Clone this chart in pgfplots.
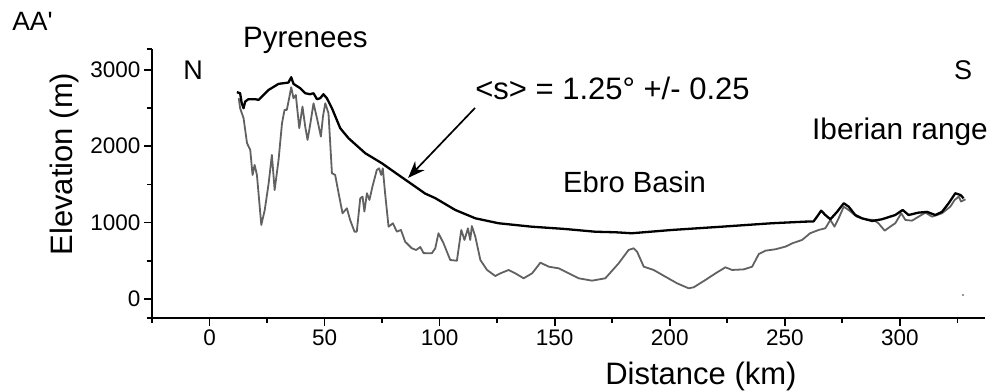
\documentclass[border=0pt]{standalone}
\usepackage{fontspec}
\setmainfont{Liberation Sans}
\newfontfamily\plainfont{Liberation Sans}
\usepackage{pgfplots}
\pgfplotsset{compat=1.18}
\usetikzlibrary{arrows.meta}
\begin{document}
\begin{tikzpicture}
\begin{axis}[
  scale only axis,
  width=833pt, height=268.7pt,
  xmin=-25, xmax=337, ymin=-250, ymax=3270,
  axis lines=left,
  axis line style={-, line width=1.7pt},
  xtick={0,50,...,300},
  minor xtick={-25,25,75,125,175,225,275,325},
  ytick={0,1000,2000,3000},
  minor ytick={500,1500,2500},
  extra y ticks={-250,3270}, extra y tick labels={},
  extra y tick style={major tick length=5pt},
  tick align=outside,
  major tick length=8pt, minor tick length=5pt,
  every tick/.style={line width=1.7pt, black},
  tick label style={font=\fontsize{22.5}{26}\selectfont},
  /pgf/number format/assume math mode=true,
  /pgf/number format/1000 sep={},
  xlabel={Distance (km)}, ylabel={Elevation (m)},
  label style={font=\fontsize{31}{35}\selectfont, inner sep=0pt},
  xlabel style={at={(axis description cs:0.659,-0.2493)}, anchor=base},
  ylabel style={at={(axis description cs:-0.1056,0.573)}, anchor=center},
  clip=false,
]
\path (axis cs:-91.05,3915.6) rectangle (axis cs:339.6,-1206);
% gray detailed topography
\addplot[black!62, line width=1.8pt, line join=round] coordinates {
(12.7,2629) (13.3,2498) (14.8,2367) (16.3,2039) (17.7,1952) (18.7,1624) (19.6,1755) (20.6,1624) (22.5,969) (24.0,1165) (25.7,1515) (27.1,1886) (28.3,1427) (30.0,1820) (31.5,2301) (32.6,2476) (33.6,2476) (34.6,2629) (35.5,2773) (36.5,2629) (37.5,2672) (39.0,2236) (40.4,2519) (41.6,2255) (42.6,2083) (43.7,2275) (45.2,2563) (46.7,2367) (48.4,2126) (49.3,2389) (50.3,2563) (51.7,2432) (53.2,1646) (54.6,1624) (56.1,1384) (57.8,1122) (59.7,1187) (61.1,1034) (63.0,881) (64.0,881) (65.5,1318) (66.5,1340) (67.3,1144) (68.4,1384) (69.5,1297) (70.8,1471) (72.7,1689) (73.7,1711) (74.6,1624) (75.3,1711) (76.3,1384) (77.8,946) (79.7,990) (81.4,881) (83.2,903) (85.0,750) (87.9,663) (89.8,641) (91.6,680) (93.0,600) (96.6,597) (98.1,663) (99.5,860) (101.7,728) (104.6,510) (107.5,500) (109.4,903) (110.8,772) (112.3,925) (113.3,772) (114.0,955) (115.5,816) (117.7,510) (120.6,379) (124.2,300) (126.4,335) (130.0,379) (132.9,335) (136.5,270) (140.2,335) (143.8,475) (147.4,422) (151.8,400) (156.1,335) (160.4,270) (166.2,239) (172.0,270) (177.8,466) (182.1,641) (184.3,663) (185.8,619) (188.7,422) (193.0,379) (198.1,291) (203.2,204) (208.2,139) (210.4,152) (215.5,248) (219.9,335) (224.2,414) (227.1,379) (232.2,387) (235.8,422) (238.7,588) (241.6,632) (245.9,650) (250.3,685) (253.2,728) (257.5,772) (261.0,860) (264.7,903) (267.6,925) (269.8,1034) (271.6,946) (273.4,1056) (275.6,1208) (277.7,1165) (281.3,1077) (284.9,1043) (288.6,1034) (290.7,991) (293.4,894) (295.8,946) (298.0,991) (300.6,1122) (302.4,1034) (305.3,1025) (308.1,1077) (311.1,1130) (314.0,1077) (318.3,1122) (321.9,1208) (323.8,1296) (325.6,1340) (326.6,1275) (328.5,1305)
};
% black envelope
\addplot[black, line width=2.3pt, line join=round] coordinates {
(11.9,2708) (13.3,2694) (14.0,2563) (14.8,2498) (15.5,2585) (16.9,2616) (19.9,2616) (21.3,2607) (25.7,2738) (30.0,2817) (34.3,2834) (35.5,2904) (36.5,2817) (39.4,2760) (41.6,2694) (43.7,2681) (45.2,2694) (46.7,2616) (48.1,2629) (49.5,2681) (51.0,2629) (53.2,2498) (56.8,2236) (60.4,2105) (67.7,1908) (74.9,1777) (82.1,1624) (89.4,1471) (93.7,1380) (98.1,1320) (106.8,1165) (115.5,1056) (125.6,991) (140.0,946) (154.5,916) (167.6,880) (176.3,873) (183.5,860) (200.9,903) (222.6,946) (244.3,991) (258.8,1012) (262.5,1015) (264.0,1077) (265.8,1156) (267.6,1099) (269.8,1043) (272.7,1140) (275.6,1253) (277.7,1210) (280.6,1099) (283.5,1056) (287.9,1021) (292.2,1043) (298.0,1099) (301.2,1165) (303.8,1099) (308.1,1130) (311.8,1140) (315.4,1099) (318.3,1140) (321.2,1253) (324.1,1384) (326.3,1362) (327.7,1318)
};
\addplot[only marks, mark=*, mark size=0.8pt, black!50] coordinates {(327.4,51)};
\draw[-{Stealth[length=17pt,width=13pt]}, line width=1.7pt] (axis cs:115.4,2502) -- (axis cs:86.3,1585);
\node[anchor=base west, inner sep=0pt, font=\plainfont\fontsize{26.5}{30}\selectfont] at (axis cs:-85.8,3511) {AA'};
\node[anchor=base west, inner sep=0pt, font=\fontsize{29.5}{34}\selectfont] at (axis cs:14.5,3289) {Pyrenees};
\node[anchor=base west, inner sep=0pt, font=\fontsize{27}{32}\selectfont] at (axis cs:-11.5,2869) {N};
\node[anchor=base west, inner sep=0pt, font=\fontsize{27}{32}\selectfont] at (axis cs:323.5,2869) {S};
\node[anchor=base west, inner sep=0pt, font=\fontsize{29.8}{34}\selectfont] at (axis cs:261.8,2083) {Iberian range};
\node[anchor=base west, inner sep=0pt, font=\fontsize{29.2}{34}\selectfont] at (axis cs:153.6,1388) {Ebro Basin};
\node[anchor=base west, inner sep=0pt, font=\fontsize{31}{35}\selectfont] at (axis cs:115.4,2607) {<s> = 1.25° +/- 0.25};
\end{axis}
\end{tikzpicture}
\end{document}
